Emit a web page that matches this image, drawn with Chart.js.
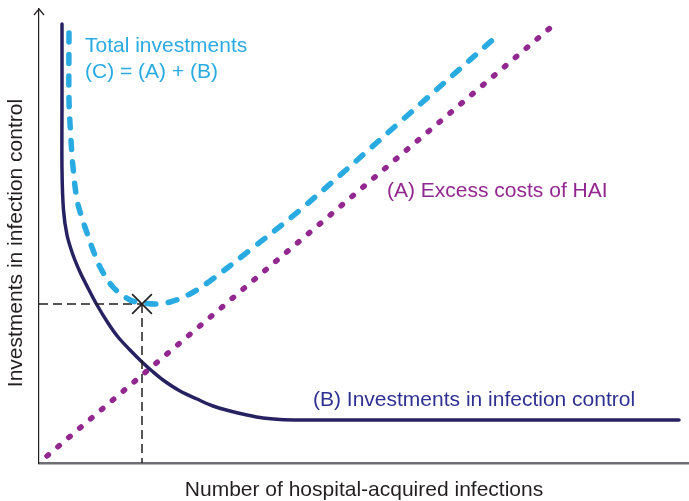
<!DOCTYPE html>
<html>
<head>
<meta charset="utf-8">
<script src="https://cdn.jsdelivr.net/npm/chart.js@4/dist/chart.umd.min.js"></script>
<style>
html,body{margin:0;padding:0;background:#fff;overflow:hidden;}
canvas{display:block;}
</style>
</head>
<body>
<canvas id="c" width="689" height="501"></canvas>
<script>
// ---- Data (arbitrary units) ----
// (B) Investments in infection control
const investX = [23, 23, 23, 24.5, 28, 34, 41, 49, 58, 69, 79, 91, 103, 113, 124, 141, 158, 174, 191, 208, 224, 241, 261, 330, 640];
const investY = [439, 363, 293, 253, 228, 208, 191, 175, 158, 140, 126, 113, 101, 92, 83, 72, 64, 57, 52, 48, 45, 43.5, 43, 43, 43];
// (C) Total investments
const totalX = [30, 30, 32, 34, 38, 43, 48, 54, 61, 74, 91, 104, 118, 131, 151, 171, 211, 261, 361, 459];
const totalY = [430, 363, 323, 296, 263, 245, 230, 213, 196, 176, 163, 160, 159, 161, 169, 182, 213, 253, 341, 428];
// (A) Excess costs of HAI
const excessX = [8, 511];
const excessY = [7, 435];
// Optimum point
const optimumX = [103];
const optimumY = [159];

const xTitle = 'Number of hospital-acquired infections';
const yTitle = 'Investments in infection control';
const labelTotal = ['Total investments', '(C) = (A) + (B)'];
const labelExcess = '(A) Excess costs of HAI';
const labelInvest = '(B) Investments in infection control';

const FONT = '"Liberation Sans", Arial, Helvetica, sans-serif';
const pts = (xs, ys) => xs.map((x, i) => ({x: x, y: ys[i]}));

const annotate = {
  id: 'annotate',
  afterDatasetsDraw(chart) {
    const ctx = chart.ctx, xs = chart.scales.x, ys = chart.scales.y, ca = chart.chartArea;
    ctx.save();
    // y-axis arrow head
    ctx.strokeStyle = '#231f20';
    ctx.lineWidth = 1.2;
    ctx.beginPath();
    ctx.moveTo(ca.left - 5, ca.top + 6);
    ctx.lineTo(ca.left, ca.top);
    ctx.lineTo(ca.left + 5, ca.top + 6);
    ctx.stroke();
    // curve labels
    ctx.font = '21px ' + FONT;
    ctx.textAlign = 'left';
    ctx.textBaseline = 'middle';
    ctx.fillStyle = '#29abe2';
    ctx.fillText(labelTotal[0], xs.getPixelForValue(46), ys.getPixelForValue(417));
    ctx.fillText(labelTotal[1], xs.getPixelForValue(46), ys.getPixelForValue(391));
    ctx.fillStyle = '#92278f';
    ctx.fillText(labelExcess, xs.getPixelForValue(348), ys.getPixelForValue(272));
    ctx.fillStyle = '#2e3192';
    ctx.fillText(labelInvest, xs.getPixelForValue(274), ys.getPixelForValue(63));
    // y axis title
    ctx.fillStyle = '#231f20';
    ctx.translate(16, 243);
    ctx.rotate(-Math.PI / 2);
    ctx.textAlign = 'center';
    ctx.fillText(yTitle, 0, 0);
    ctx.restore();
  }
};

new Chart(document.getElementById('c'), {
  type: 'scatter',
  data: {
    datasets: [
      {
        label: 'Optimum',
        data: pts(optimumX, optimumY),
        pointStyle: 'crossRot',
        pointRadius: 14,
        pointBorderWidth: 1.6,
        pointBorderColor: '#231f20',
        pointBackgroundColor: '#231f20',
        showLine: false
      },
      {
        label: 'Total investments',
        data: pts(totalX, totalY),
        showLine: true,
        borderColor: '#29abe2',
        borderWidth: 5.5,
        borderDash: [9, 12.5],
        borderCapStyle: 'round',
        tension: 0.35,
        pointRadius: 0
      },
      {
        label: 'ref-h',
        data: [{x: 0, y: optimumY[0]}, {x: optimumX[0], y: optimumY[0]}],
        showLine: true,
        borderColor: '#231f20',
        borderWidth: 1.5,
        borderDash: [9, 5],
        pointRadius: 0
      },
      {
        label: 'ref-v',
        data: [{x: optimumX[0], y: optimumY[0]}, {x: optimumX[0], y: 0}],
        showLine: true,
        borderColor: '#231f20',
        borderWidth: 1.5,
        borderDash: [9, 5],
        pointRadius: 0
      },
      {
        label: 'Investments in infection control',
        data: pts(investX, investY),
        showLine: true,
        borderColor: '#262262',
        borderWidth: 3.5,
        borderCapStyle: 'round',
        tension: 0.3,
        pointRadius: 0
      },
      {
        label: 'Excess costs of HAI',
        data: pts(excessX, excessY),
        showLine: true,
        borderColor: '#92278f',
        borderWidth: 5.5,
        borderDash: [1.8, 12.5],
        borderCapStyle: 'round',
        pointRadius: 0
      }
    ]
  },
  options: {
    responsive: false,
    animation: false,
    devicePixelRatio: 1,
    layout: {autoPadding: false, padding: {left: 39, right: 0, top: 9, bottom: 0}},
    plugins: {legend: {display: false}, tooltip: {enabled: false}},
    scales: {
      x: {
        type: 'linear', min: 0, max: 650,
        grid: {display: false, drawTicks: false},
        ticks: {display: false},
        border: {display: true, color: '#6d6e71', width: 2.5},
        title: {display: true, text: xTitle, color: '#231f20',
                font: {family: FONT, size: 21, lineHeight: 1.2},
                padding: {top: 14.8, bottom: -2}}
      },
      y: {
        type: 'linear', min: 0, max: 454,
        grid: {display: false, drawTicks: false},
        ticks: {display: false},
        border: {display: true, color: '#231f20', width: 1.2}
      }
    }
  },
  plugins: [annotate]
});
</script>
</body>
</html>
